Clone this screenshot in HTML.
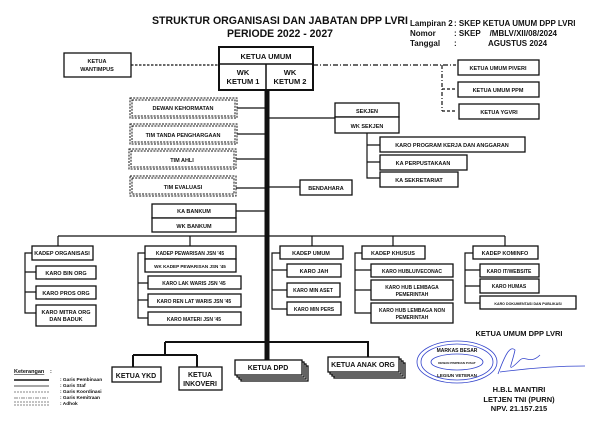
<!DOCTYPE html>
<html><head><meta charset="utf-8"><style>
html,body{margin:0;padding:0;background:#fff}
svg{display:block}
text{font-family:"Liberation Sans",sans-serif;font-weight:bold;fill:#111}
.b{fill:#fff;stroke:#111;stroke-width:1.3}
.d{fill:#fff;stroke:#111;stroke-width:1;stroke-dasharray:2,1.2}
.l{stroke:#111;stroke-width:1.2;fill:none}
.t{font-size:5.5px;text-anchor:middle}
</style></head><body>
<svg width="600" height="433" viewBox="0 0 600 433" xmlns="http://www.w3.org/2000/svg">
<!-- title -->
<text x="152" y="24" font-size="11" textLength="256" lengthAdjust="spacingAndGlyphs">STRUKTUR ORGANISASI DAN JABATAN DPP LVRI</text>
<text x="227" y="37" font-size="11" textLength="106" lengthAdjust="spacingAndGlyphs">PERIODE 2022 - 2027</text>
<g font-size="8">
<text x="410" y="26">Lampiran 2</text><text x="454" y="26">: SKEP KETUA UMUM DPP LVRI</text>
<text x="410" y="36">Nomor</text><text x="454" y="36">: SKEP&#160;&#160;&#160;&#160;/MBLV/XII/08/2024</text>
<text x="410" y="46">Tanggal</text><text x="454" y="46">:</text><text x="488" y="46">AGUSTUS 2024</text>
</g>
<!-- main lines -->
<line x1="267" y1="90" x2="267" y2="362" stroke="#111" stroke-width="5"/>
<line x1="131" y1="65" x2="219" y2="65" class="l" stroke-dasharray="2.5,1.5"/>
<line x1="313" y1="65" x2="456" y2="65" class="l" stroke-dasharray="5,2,1,2"/>
<line x1="442" y1="65" x2="442" y2="111" class="l" stroke-dasharray="4,2,1,2"/>
<line x1="442" y1="89" x2="456" y2="89" class="l" stroke-dasharray="3,2"/>
<line x1="442" y1="111" x2="456" y2="111" class="l" stroke-dasharray="3,2"/>
<!-- ketua umum -->
<rect x="219" y="47" width="94" height="43" fill="#fff" stroke="#111" stroke-width="2"/>
<line x1="219" y1="64" x2="313" y2="64" stroke="#111" stroke-width="1.5"/>
<line x1="266" y1="64" x2="266" y2="90" stroke="#111" stroke-width="1.5"/>
<text x="266" y="59" font-size="7.5" text-anchor="middle">KETUA UMUM</text>
<text x="243" y="75" font-size="7.5" text-anchor="middle">WK</text><text x="243" y="84" font-size="7.5" text-anchor="middle">KETUM 1</text>
<text x="290" y="75" font-size="7.5" text-anchor="middle">WK</text><text x="290" y="84" font-size="7.5" text-anchor="middle">KETUM 2</text>
<rect x="64" y="53" width="67" height="24" class="b"/>
<text x="97" y="63" class="t">KETUA</text><text x="97" y="71" class="t">WANTIMPUS</text>
<rect x="458" y="60" width="81" height="15" class="b"/><text x="498" y="70" class="t">KETUA UMUM PIVERI</text>
<rect x="458" y="82" width="81" height="15" class="b"/><text x="498" y="92" class="t">KETUA UMUM PPM</text>
<rect x="459" y="104" width="80" height="15" class="b"/><text x="499" y="114" class="t">KETUA YGVRI</text>
<!-- adhoc -->
<g>
<line x1="237" y1="108" x2="267" y2="108" class="l"/><line x1="237" y1="134" x2="267" y2="134" class="l"/>
<line x1="236" y1="159" x2="267" y2="159" class="l"/><line x1="236" y1="188" x2="267" y2="188" class="l"/>
<rect x="130" y="98" width="107" height="20" class="d"/><rect x="132" y="100" width="103" height="16" class="d"/><text x="183" y="110" class="t">DEWAN KEHORMATAN</text>
<rect x="130" y="124" width="107" height="20" class="d"/><rect x="132" y="126" width="103" height="16" class="d"/><text x="183" y="137" class="t">TIM TANDA PENGHARGAAN</text>
<rect x="129" y="149" width="107" height="20" class="d"/><rect x="131" y="151" width="103" height="16" class="d"/><text x="182" y="162" class="t">TIM AHLI</text>
<rect x="130" y="176" width="106" height="20" class="d"/><rect x="132" y="178" width="102" height="16" class="d"/><text x="183" y="189" class="t">TIM EVALUASI</text>
</g>
<line x1="236" y1="211" x2="267" y2="211" class="l"/>
<rect x="152" y="204" width="84" height="14" class="b"/><text x="194" y="213" class="t">KA BANKUM</text>
<rect x="152" y="218" width="84" height="14" class="b"/><text x="194" y="228" class="t">WK BANKUM</text>
<!-- sekjen -->
<line x1="267" y1="118" x2="335" y2="118" class="l"/>
<rect x="335" y="103" width="64" height="14" class="b"/><text x="367" y="113" class="t">SEKJEN</text>
<rect x="335" y="117" width="64" height="16" class="b"/><text x="367" y="128" class="t">WK SEKJEN</text>
<path d="M367 133 V178 H380 M367 145 H380 M367 162 H380" class="l"/>
<rect x="380" y="137" width="145" height="15" class="b"/><text x="452" y="147" class="t">KARO PROGRAM KERJA DAN ANGGARAN</text>
<rect x="380" y="155" width="87" height="15" class="b"/><text x="423" y="165" class="t">KA PERPUSTAKAAN</text>
<rect x="380" y="172" width="78" height="15" class="b"/><text x="419" y="182" class="t">KA SEKRETARIAT</text>
<line x1="267" y1="187" x2="300" y2="187" class="l"/>
<rect x="300" y="180" width="52" height="15" class="b"/><text x="326" y="190" class="t">BENDAHARA</text>
<!-- departments -->
<path d="M58 236 H505 M58 236 V246 M190 236 V246 M312 236 V246 M393 236 V246 M505 236 V246" class="l"/>
<g>
<path d="M32 253 H25 V313 H36 M25 272 H36 M25 292 H36" class="l"/>
<rect x="32" y="246" width="61" height="14" class="b"/><text x="62" y="255" class="t" font-size="5">KADEP ORGANISASI</text>
<rect x="36" y="266" width="60" height="13" class="b"/><text x="66" y="275" class="t">KARO BIN ORG</text>
<rect x="36" y="286" width="60" height="13" class="b"/><text x="66" y="295" class="t">KARO PROS ORG</text>
<rect x="36" y="305" width="60" height="21" class="b"/><text x="66" y="314" class="t">KARO MITRA ORG</text><text x="66" y="321" class="t">DAN BADUK</text>

<path d="M145 253 H138 V318 H148 M138 283 H148 M138 300 H148" class="l"/>
<rect x="145" y="246" width="91" height="13" class="b"/><text x="190" y="255" class="t" style="font-size:5px">KADEP PEWARISAN JSN '45</text>
<rect x="145" y="259" width="91" height="13" class="b"/><text x="190" y="268" class="t" style="font-size:4.6px">WK KADEP PEWARISAN JSN '45</text>
<rect x="148" y="276" width="93" height="13" class="b"/><text x="194" y="285" class="t" style="font-size:5px">KARO LAK WARIS JSN '45</text>
<rect x="148" y="294" width="93" height="13" class="b"/><text x="194" y="303" class="t" style="font-size:5px">KARO REN LAT WARIS JSN '45</text>
<rect x="148" y="312" width="93" height="13" class="b"/><text x="194" y="321" class="t" style="font-size:5px">KARO MATERI JSN '45</text>

<path d="M280 253 H272 V309 H287 M272 270 H287 M272 290 H287" class="l"/>
<rect x="280" y="246" width="63" height="13" class="b"/><text x="311" y="255" class="t">KADEP UMUM</text>
<rect x="287" y="264" width="54" height="13" class="b"/><text x="314" y="273" class="t">KARO JAH</text>
<rect x="287" y="283" width="53" height="14" class="b"/><text x="313" y="292" class="t" style="font-size:5px">KARO MIN ASET</text>
<rect x="287" y="302" width="54" height="13" class="b"/><text x="314" y="311" class="t" style="font-size:5px">KARO MIN PERS</text>

<path d="M362 253 H355 V313 H371 M355 270 H371 M355 290 H371" class="l"/>
<rect x="362" y="246" width="63" height="13" class="b"/><text x="393" y="255" class="t">KADEP KHUSUS</text>
<rect x="371" y="264" width="82" height="13" class="b"/><text x="412" y="273" class="t" style="font-size:5px">KARO HUBLUIVECONAC</text>
<rect x="371" y="280" width="82" height="20" class="b"/><text x="412" y="289" class="t" style="font-size:5px">KARO HUB LEMBAGA</text><text x="412" y="296" class="t" style="font-size:5px">PEMERINTAH</text>
<rect x="371" y="303" width="82" height="20" class="b"/><text x="412" y="312" class="t" style="font-size:5px">KARO HUB LEMBAGA NON</text><text x="412" y="319" class="t" style="font-size:5px">PEMERINTAH</text>

<path d="M473 253 H465 V303 H480 M465 270 H480 M465 286 H480" class="l"/>
<rect x="473" y="246" width="65" height="13" class="b"/><text x="505" y="255" class="t">KADEP KOMINFO</text>
<rect x="480" y="264" width="59" height="13" class="b"/><text x="509" y="273" class="t" style="font-size:5px">KARO IT/WEBSITE</text>
<rect x="480" y="279" width="59" height="14" class="b"/><text x="509" y="288" class="t" style="font-size:5px">KARO HUMAS</text>
<rect x="480" y="296" width="96" height="13" class="b"/><text x="528" y="305" class="t" style="font-size:3.6px">KARO DOKUMENTASI DAN PUBLIKASI</text>
</g>
<!-- bottom -->
<path d="M165 342 H368 V357 M165 342 V355 M133 355 H197 M133 355 V367 M197 355 V367" fill="none" stroke="#111" stroke-width="2"/>
<rect x="112" y="367" width="49" height="15" class="b"/><text x="136" y="378" font-size="7" text-anchor="middle">KETUA YKD</text>
<rect x="179" y="367" width="43" height="23" class="b"/><text x="200" y="377" font-size="7" text-anchor="middle">KETUA</text><text x="200" y="386" font-size="7" text-anchor="middle">INKOVERI</text>
<rect x="241" y="366" width="67" height="15" class="b"/><rect x="239" y="364" width="67" height="15" class="b"/><rect x="237" y="362" width="67" height="15" class="b"/><rect x="235" y="360" width="67" height="15" class="b"/>
<text x="268" y="370" font-size="7" text-anchor="middle">KETUA DPD</text>
<rect x="334" y="363" width="71" height="15" class="b"/><rect x="332" y="361" width="71" height="15" class="b"/><rect x="330" y="359" width="71" height="15" class="b"/><rect x="328" y="357" width="71" height="15" class="b"/>
<text x="363" y="367" font-size="7" text-anchor="middle">KETUA ANAK ORG</text>
<!-- legend -->
<text x="14" y="373" font-size="5.5" text-decoration="underline">Keterangan</text><text x="50" y="373" font-size="5.5">:</text>
<line x1="14" y1="380" x2="49" y2="380" stroke="#111" stroke-width="1.5"/>
<line x1="14" y1="386" x2="49" y2="386" stroke="#111" stroke-width="0.8"/>
<line x1="14" y1="392" x2="49" y2="392" stroke="#111" stroke-width="0.6" stroke-dasharray="2,1"/>
<line x1="14" y1="398" x2="49" y2="398" stroke="#111" stroke-width="0.6" stroke-dasharray="4,1,1,1"/>
<line x1="14" y1="402" x2="49" y2="402" stroke="#111" stroke-width="0.6" stroke-dasharray="2,1"/>
<line x1="14" y1="405" x2="49" y2="405" stroke="#111" stroke-width="0.6" stroke-dasharray="2,1"/>
<g font-size="4.8">
<text x="60" y="381" fill="#333" font-weight="normal">: Garis Pembinaan</text>
<text x="60" y="387" fill="#333" font-weight="normal">: Garis Staf</text>
<text x="60" y="393" fill="#333" font-weight="normal">: Garis Koordinasi</text>
<text x="60" y="399" fill="#333" font-weight="normal">: Garis Kemitraan</text>
<text x="60" y="405" fill="#333" font-weight="normal">: Adhok</text>
</g>
<!-- signature -->
<text x="519" y="336" font-size="7.5" text-anchor="middle">KETUA UMUM DPP LVRI</text>
<g fill="none" stroke="#3344cc" stroke-width="0.8">
<ellipse cx="457" cy="362" rx="40" ry="21"/>
<ellipse cx="457" cy="362" rx="36" ry="18"/>
<ellipse cx="457" cy="362" rx="26" ry="8"/>
<path d="M498 374 C505 355 510 345 515 350 C512 365 505 375 520 360 C525 355 530 365 540 355 M500 372 C530 368 560 366 585 366"/>
</g>
<text x="457" y="364" font-size="3" text-anchor="middle" fill="#3344cc" font-weight="normal">DEWAN PIMPINAN PUSAT</text>
<text x="457" y="352" font-size="5" text-anchor="middle" fill="#3344cc" font-weight="normal">MARKAS BESAR</text>
<text x="457" y="377" font-size="4.5" text-anchor="middle" fill="#3344cc" font-weight="normal">LEGIUN VETERAN</text>
<text x="519" y="392" font-size="7.5" text-anchor="middle">H.B.L MANTIRI</text>
<text x="519" y="402" font-size="7.5" text-anchor="middle">LETJEN TNI (PURN)</text>
<text x="519" y="411" font-size="7.5" text-anchor="middle">NPV. 21.157.215</text>
</svg>
</body></html>
